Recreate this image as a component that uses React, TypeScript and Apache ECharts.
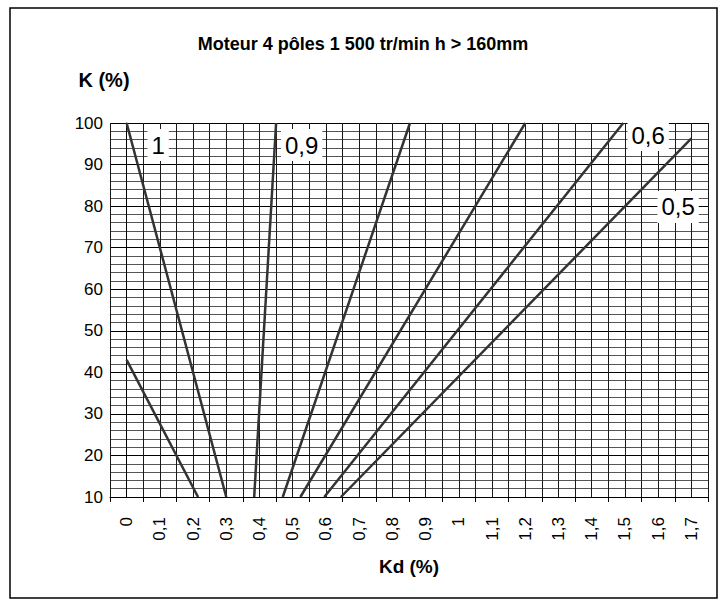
import React, { useEffect, useRef } from "react";
import * as echarts from "echarts";

const FONT = "'Liberation Sans Narrow', 'Arial Narrow', 'Liberation Sans', Arial, sans-serif";

// Kd categories (x axis labels)
const kdLabels = ["0", "0,1", "0,2", "0,3", "0,4", "0,5", "0,6", "0,7", "0,8", "0,9", "1", "1,1", "1,2", "1,3", "1,4", "1,5", "1,6", "1,7"];

// Curves: [Kd, K] points
const curve1Upper = [[0, 100], [0.3, 10]];
const curve1Lower = [[0, 43], [0.215, 10]];
const curve09 = [[0.384, 10], [0.45, 100]];
const curve08 = [[0.47, 10], [0.853, 100]];
const curve07 = [[0.523, 10], [1.2, 100]];
const curve06 = [[0.595, 10], [1.495, 100]];
const curve05 = [[0.645, 10], [1.7, 96.3]];

// Curve labels: text and anchor in data coordinates
const labelNames = ["1", "0,9", "0,6", "0,5"];
const labelKd = [0.095, 0.527, 1.57, 1.66];
const labelK = [94.7, 94.7, 97.1, 79.8];

export default function App() {
  const ref = useRef<HTMLDivElement>(null);
  useEffect(() => {
    document.body.style.margin = "0";
    const chart = echarts.init(ref.current!, null, { renderer: "svg" });
    const curves = [curve1Upper, curve1Lower, curve09, curve08, curve07, curve06, curve05];
    chart.setOption({
      animation: false,
      backgroundColor: "#fff",
      title: {
        text: "Moteur 4 pôles 1 500 tr/min h > 160mm",
        left: "center",
        top: 35,
        padding: 0,
        textStyle: { fontFamily: FONT, fontSize: 18, fontWeight: "bold", color: "#000" },
      },
      grid: { left: 110, right: 18, top: 123, bottom: 103 },
      xAxis: [
        {
          type: "category",
          data: kdLabels,
          boundaryGap: true,
          position: "bottom",
          axisLine: { lineStyle: { color: "#000", width: 1 } },
          axisTick: { show: true, length: 5, lineStyle: { color: "#000" } },
          axisLabel: { rotate: 90, margin: 20, fontSize: 17, fontFamily: FONT, color: "#000", interval: 0 },
          splitLine: { show: false },
          name: "Kd (%)",
          nameLocation: "middle",
          nameGap: 69,
          nameTextStyle: { fontFamily: FONT, fontSize: 19, fontWeight: "bold", color: "#000", verticalAlign: "middle" },
        },
        {
          type: "value",
          min: -0.05,
          max: 1.75,
          interval: 0.05,
          position: "bottom",
          axisLine: { show: false },
          axisTick: { show: false },
          axisLabel: { show: false },
          splitLine: { show: true, lineStyle: { color: "#1a1a1a", width: 1 } },
        },
      ],
      yAxis: {
        type: "value",
        min: 10,
        max: 100,
        interval: 10,
        axisLine: { show: true, lineStyle: { color: "#000" } },
        axisTick: { show: true, length: 5, lineStyle: { color: "#000" } },
        axisLabel: { fontSize: 17, fontFamily: FONT, color: "#000", margin: 7 },
        splitLine: { show: true, lineStyle: { color: "#000", width: 1 } },
        minorTick: { show: false, splitNumber: 5 },
        minorSplitLine: { show: true, lineStyle: { color: "#555", width: 1 } },
      },
      series: [
        ...curves.map((c) => ({
          type: "line",
          xAxisIndex: 1,
          data: c,
          symbol: "none",
          silent: true,
          clip: true,
          lineStyle: { color: "#333", width: 2.5 },
        })),
        {
          type: "scatter",
          xAxisIndex: 1,
          symbolSize: 1,
          silent: true,
          itemStyle: { color: "#fff", opacity: 1 },
          z: 5,
          data: labelNames.map((n, i) => ({ name: n, value: [labelKd[i], labelK[i]] })),
          label: {
            show: true,
            position: "inside",
            formatter: "{b}",
            fontSize: 24,
            fontFamily: FONT,
            color: "#000",
            opacity: 1,
            textBorderWidth: 0,
            backgroundColor: "#fff",
            padding: [4, 4],
          },
        },
      ],
      graphic: [
        {
          type: "text",
          silent: true,
          x: 104,
          y: 80,
          style: {
            text: "K (%)",
            fontFamily: FONT,
            fontSize: 20,
            fontWeight: "bold",
            fill: "#000",
            align: "center",
            verticalAlign: "middle",
          },
        },
        {
          type: "rect",
          silent: true,
          shape: { x: 10, y: 8, width: 707, height: 590 },
          style: { fill: "none", stroke: "#000", lineWidth: 1.5 },
        },
      ],
    });
    return () => chart.dispose();
  }, []);
  return <div ref={ref} style={{ width: 726, height: 600 }} />;
}
